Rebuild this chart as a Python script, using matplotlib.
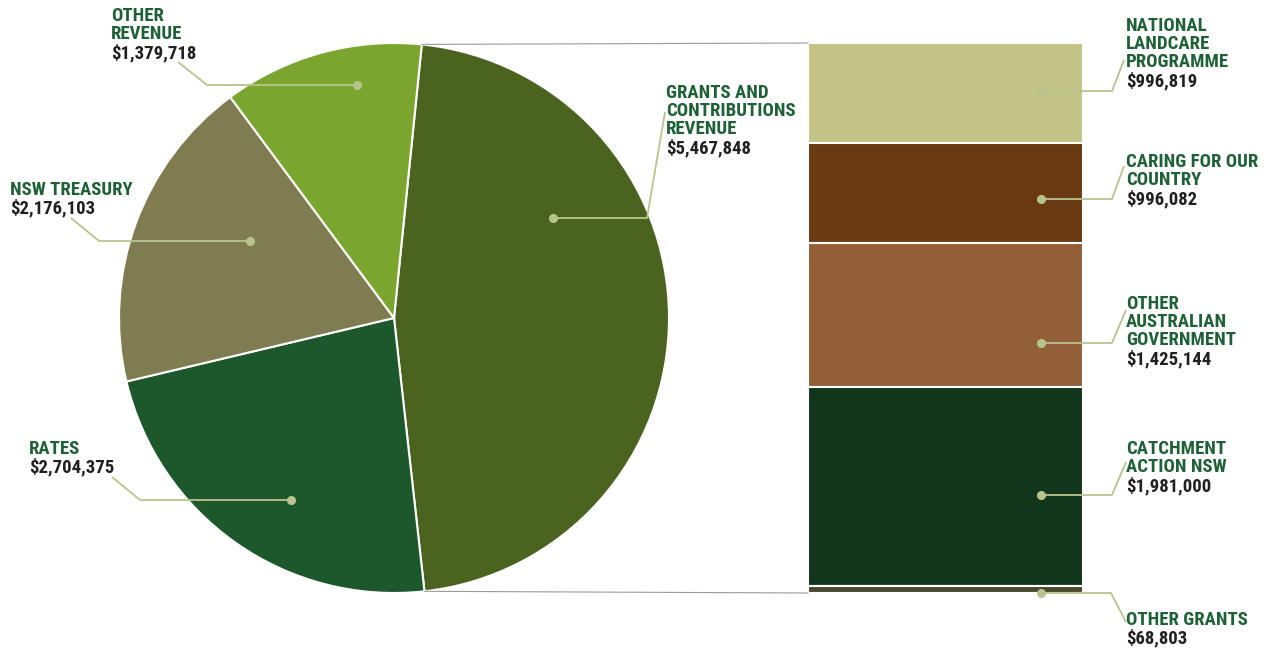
import numpy as np
import matplotlib
matplotlib.use("Agg")
import matplotlib.pyplot as plt

# pie: total revenue
pie_names = ["GRANTS AND\nCONTRIBUTIONS\nREVENUE", "RATES", "NSW TREASURY", "OTHER\nREVENUE"]
pie_values = [5467848, 2704375, 2176103, 1379718]
pie_colors = ["#4A631E", "#1C582C", "#807C51", "#7AA52E"]

# bar: breakdown of grants
bar_names = ["NATIONAL\nLANDCARE\nPROGRAMME", "CARING FOR OUR\nCOUNTRY", "OTHER\nAUSTRALIAN\nGOVERNMENT",
             "CATCHMENT\nACTION NSW", "OTHER GRANTS"]
bar_values = [996819, 996082, 1425144, 1981000, 68803]
bar_colors = ["#C2C487", "#6A3A12", "#935F39", "#12361B", "#4B4A30"]

name_col = "#1F6136"
value_col = "#231F20"
leader_col = "#B8C48E"
font = ["Liberation Sans Narrow", "Roboto Condensed", "DejaVu Sans Condensed", "DejaVu Sans"]

fig = plt.figure(figsize=(12.74, 6.5), dpi=100)
ax = fig.add_axes([0, 0, 1, 1])

# pie (y axis inverted -> counterclock=True draws clockwise on screen)
cx, cy, r = 394, 318, 275
start = 84.2
ax.pie(pie_values, colors=pie_colors, startangle=-start, counterclock=True,
       center=(cx, cy), radius=r, frame=True,
       wedgeprops=dict(edgecolor="white", linewidth=1.5))
ax.set_xlim(0, 1274)
ax.set_ylim(650, 0)
ax.set_aspect("equal")
ax.axis("off")

# stacked bar
bx, bw, btop, bh = 945.5, 275, 43, 550
scale = bh / sum(bar_values)
bottoms = btop + np.concatenate([[0], np.cumsum(bar_values)[:-1]]) * scale
ax.bar([bx] * len(bar_values), np.array(bar_values) * scale, bottom=bottoms, width=bw,
       color=bar_colors, edgecolor="white", linewidth=1.5)

# connector lines pie -> bar
frac = pie_values[0] / sum(pie_values)
a1 = np.deg2rad(start)
a2 = np.deg2rad(start - 360 * frac)
ax.plot([cx + r * np.cos(a1), bx - bw / 2], [cy - r * np.sin(a1), btop], color="#9A9A9A", lw=0.8)
ax.plot([cx + r * np.cos(a2), bx - bw / 2], [cy - r * np.sin(a2), btop + bh], color="#9A9A9A", lw=0.8)

# labels: text top-left, leader path (dot -> elbow -> end)
pie_lab = [
    ((666, 84), [(553, 218), (647, 218), (665, 112)]),
    ((29, 440), [(291, 500), (140, 500), (112, 477)]),
    ((10, 181), [(250, 241), (99, 241), (71, 218)]),
    ((111, 7), [(357, 85), (207, 85), (178, 62)]),
]
bar_lab = [
    ((1126, 17), [(1041, 91), (1112, 91), (1124, 60)]),
    ((1126, 153), [(1041, 199), (1112, 199), (1124, 166)]),
    ((1126, 295), [(1041, 343), (1112, 343), (1126, 310)]),
    ((1126, 440), [(1041, 495), (1112, 495), (1126, 462)]),
    ((1126, 611), [(1041, 593), (1111, 593), (1126, 622)]),
]

line_h = 18.2
fs = 13.5


def put_label(name, value, pos, path):
    x, y = pos
    lines = name.split("\n")
    for i, ln in enumerate(lines):
        ax.text(x, y + i * line_h, ln, color=name_col, fontsize=fs, fontweight="bold",
                family=font, va="top", ha="left")
    ax.text(x, y + len(lines) * line_h, f"${value:,}", color=value_col, fontsize=fs,
            fontweight="bold", family=font, va="top", ha="left")
    xs, ys = zip(*path)
    ax.plot(xs, ys, color=leader_col, lw=1.3, solid_capstyle="butt")
    ax.plot(xs[0], ys[0], "o", color=leader_col, ms=5.5)


for name, val, (pos, path) in zip(pie_names, pie_values, pie_lab):
    put_label(name, val, pos, path)
for name, val, (pos, path) in zip(bar_names, bar_values, bar_lab):
    put_label(name, val, pos, path)

fig.savefig("out.png", dpi=100, facecolor="white")
